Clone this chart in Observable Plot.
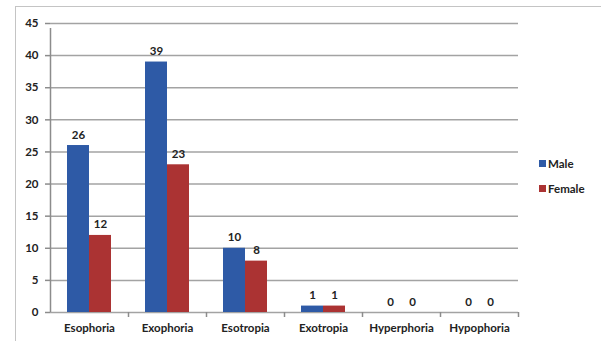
<!DOCTYPE html>
<html>
<head>
<meta charset="utf-8">
<script src="https://cdn.jsdelivr.net/npm/d3@7"></script>
<script src="https://cdn.jsdelivr.net/npm/@observablehq/plot@0.6"></script>
<style>
  html, body { margin: 0; padding: 0; background: #fff; }
  #wrap { position: relative; width: 601px; height: 341px; overflow: hidden; font-family: Lato, "Liberation Sans", sans-serif; }
  #border { position: absolute; left: 15px; top: 6px; width: 700px; height: 400px; border: 1.5px solid #c4c4c4; box-sizing: border-box; }
  #chart { position: absolute; left: 0; top: 0; }
  .legend { position: absolute; left: 539px; font-size: 11.5px; font-weight: 700; color: #222; display: flex; align-items: center; }
  .legend span.sw { display: inline-block; width: 7px; height: 7px; margin-right: 2px; }
</style>
</head>
<body>
<div id="wrap">
  <div id="border"></div>
  <div id="chart"></div>
  <div class="legend" style="top:157px"><span class="sw" style="background:#2e5aa6"></span>Male</div>
  <div class="legend" style="top:182px"><span class="sw" style="background:#ab3333"></span>Female</div>
</div>
<script>
const categories = ["Esophoria", "Exophoria", "Esotropia", "Exotropia", "Hyperphoria", "Hypophoria"];
const male = [26, 39, 10, 1, 0, 0];
const female = [12, 23, 8, 1, 0, 0];
const yTicks = [0, 5, 10, 15, 20, 25, 30, 35, 40, 45];
const seriesColors = {Male: "#2e5aa6", Female: "#ab3333"};

const maleData = categories.map((c, i) => ({category: c, value: male[i]}));
const femaleData = categories.map((c, i) => ({category: c, value: female[i]}));
const last = categories[categories.length - 1];

const fontStyle = {fontFamily: "Lato, 'Liberation Sans', sans-serif", fontWeight: 700, fill: "#222"};

const chart = Plot.plot({
  width: 601,
  height: 341,
  marginLeft: 50,
  marginRight: 83,
  marginTop: 23,
  marginBottom: 29,
  style: {background: "transparent", fontSize: "11px", fontFamily: "Lato, 'Liberation Sans', sans-serif"},
  x: {domain: categories, padding: 0, axis: null},
  y: {domain: [0, 45], axis: null},
  marks: [
    Plot.gridY(yTicks, {stroke: "#a3a3a3", strokeOpacity: 1, strokeWidth: 1.5}),
    Plot.barY(maleData, {x: "category", y: "value", fill: seriesColors.Male, insetLeft: 17, insetRight: 39}),
    Plot.barY(femaleData, {x: "category", y: "value", fill: seriesColors.Female, insetLeft: 39, insetRight: 17}),
    Plot.text(maleData, {x: "category", y: "value", text: d => String(d.value), dx: -11, dy: -7, lineAnchor: "bottom", fontSize: 11.5, ...fontStyle}),
    Plot.text(femaleData, {x: "category", y: "value", text: d => String(d.value), dx: 11, dy: -7, lineAnchor: "bottom", fontSize: 11.5, ...fontStyle}),
    Plot.ruleX([categories[0]], {x: d => d, dx: -39, y1: 0, y2: 45, insetBottom: -5, stroke: "#8c8c8c", strokeWidth: 1.5}),
    Plot.ruleX(categories.slice(1), {x: d => d, dx: -39, y1: 0, y2: 0, insetBottom: -5, stroke: "#8c8c8c", strokeWidth: 1.5}),
    Plot.ruleX([last], {x: d => d, dx: 39, y1: 0, y2: 0, insetBottom: -5, stroke: "#8c8c8c", strokeWidth: 1.5}),
    Plot.axisY(yTicks, {label: null, tickSize: 5, tickPadding: 7, stroke: "#8c8c8c", strokeWidth: 1.5, fontSize: 11.5, fontWeight: 700, fill: "#222"}),
    Plot.axisX({label: null, tickSize: 0, tickPadding: 11, fontSize: 11.5, fontWeight: 700, fill: "#222"})
  ]
});
document.getElementById("chart").appendChild(chart);
</script>
</body>
</html>
